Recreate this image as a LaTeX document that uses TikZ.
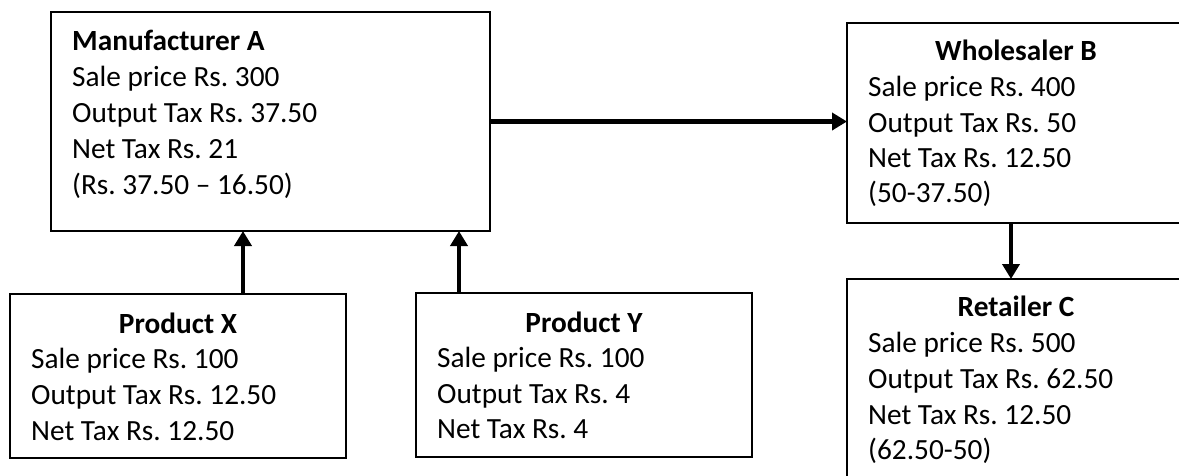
\documentclass[tikz,border=0pt]{standalone}
\usepackage{fontspec}
\setmainfont{Carlito}
\usetikzlibrary{arrows.meta}
\tikzset{
  box/.style={draw=black, line width=2pt, fill=none, inner sep=0pt, outer sep=0pt, anchor=north west},
  txt/.style={anchor=base west, inner sep=0pt, font=\fontsize{29.3}{36}\selectfont},
  ttl/.style={anchor=base, inner sep=0pt, font=\fontsize{29.3}{36}\selectfont\bfseries},
  arr/.style={line width=4pt, -{Triangle[width=17pt,length=15pt]}},
  arrwide/.style={line width=4.5pt, -{Triangle[width=17pt,length=15pt]}}
}
\begin{document}
\frenchspacing
\begin{tikzpicture}[x=1pt,y=-1pt]
\useasboundingbox (0,0) rectangle (1179,475);
\clip (0,0) rectangle (1179,475);
\fill[white] (0,0) rectangle (1179,475);
% boxes
\node[box, minimum width=439pt, minimum height=219pt] (man) at (51,12) {};
\node[box, minimum width=338pt, minimum height=200pt] (whole) at (847,23) {};
\node[box, minimum width=338pt, minimum height=230pt] (ret) at (847,279) {};
\node[box, minimum width=336pt, minimum height=164pt] (px) at (10,294) {};
\node[box, minimum width=336pt, minimum height=164pt] (py) at (416,293) {};
% Manufacturer A
\node[txt, font=\fontsize{29.3}{36}\selectfont\bfseries] (m0) at (72,50) {Manufacturer A};
\node[txt] (m1) at (72,86) {Sale price Rs. 300};
\node[txt] (m2) at (72,122) {Output Tax Rs. 37.50};
\node[txt] (m3) at (72,158) {Net Tax Rs. 21};
\node[txt] (m4) at (72,194) {(Rs. 37.50 – 16.50)};
% Wholesaler B
\node[ttl] (w0) at (1016,60) {Wholesaler B};
\node[txt] (w1) at (868,96) {Sale price Rs. 400};
\node[txt] (w2) at (868,132) {Output Tax Rs. 50};
\node[txt] (w3) at (868,167) {Net Tax Rs. 12.50};
\node[txt] (w4) at (868,202) {(50-37.50)};
% Retailer C
\node[ttl] (r0) at (1016,316) {Retailer C};
\node[txt] (r1) at (868,352) {Sale price Rs. 500};
\node[txt] (r2) at (868,388) {Output Tax Rs. 62.50};
\node[txt] (r3) at (868,424) {Net Tax Rs. 12.50};
\node[txt] (r4) at (868,459) {(62.50-50)};
% Product X
\node[ttl] (x0) at (178,333) {Product X};
\node[txt] (x1) at (31,368) {Sale price Rs. 100};
\node[txt] (x2) at (31,404) {Output Tax Rs. 12.50};
\node[txt] (x3) at (31,440) {Net Tax Rs. 12.50};
% Product Y
\node[ttl] (y0) at (584,332) {Product Y};
\node[txt] (y1) at (437,367) {Sale price Rs. 100};
\node[txt] (y2) at (437,403) {Output Tax Rs. 4};
\node[txt] (y3) at (437,438) {Net Tax Rs. 4};
% connectors
\draw[arrwide] (man.east) -- (whole.west |- man.east);
\draw[arr] ([xshift=-5pt]whole.south) -- ([xshift=-5pt]ret.north);
\draw[arr] ([xshift=65pt]px.north) -- ([xshift=65pt]px.north |- man.south);
\draw[arr] ([xshift=-125pt]py.north) -- ([xshift=-125pt]py.north |- man.south);
\end{tikzpicture}
\end{document}
